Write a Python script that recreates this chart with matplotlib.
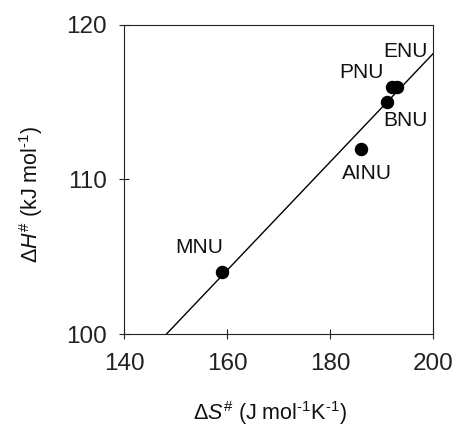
import numpy as np
import matplotlib
matplotlib.use("Agg")
import matplotlib.pyplot as plt

plt.rcParams['font.family'] = ['Liberation Sans', 'DejaVu Sans']
plt.rcParams['mathtext.fontset'] = 'custom'
plt.rcParams['mathtext.rm'] = 'Liberation Sans'
plt.rcParams['mathtext.it'] = 'Liberation Sans:italic'

# Activation parameters for each compound
compounds = ["MNU", "AINU", "BNU", "PNU", "ENU"]
delta_S = [159, 186, 191, 192, 193]      # J mol-1 K-1
delta_H = [104, 112, 115, 116, 116]      # kJ mol-1

# Label positions (data coordinates)
label_x = [154.6, 187.1, 194.6, 186.2, 194.6]
label_y = [105.6, 110.4, 113.85, 116.9, 118.3]

x_ticks = [140, 160, 180, 200]
y_ticks = [100, 110, 120]

fig = plt.figure(figsize=(4.57, 4.36), dpi=100)
ax = fig.add_axes([124 / 457, 1 - 334 / 436, (433 - 124) / 457, (334 - 25) / 436])

# Least-squares compensation line
slope, intercept = np.polyfit(delta_S, delta_H, 1)
xs = np.linspace(140, 200, 200)
ax.plot(xs, slope * xs + intercept, color='black', lw=1.0)

ax.scatter(delta_S, delta_H, s=75, color='black', zorder=3)

for name, lx, ly in zip(compounds, label_x, label_y):
    ax.text(lx, ly, name, fontsize=15, ha='center', va='center', color='#111111')

ax.set_xlim(140, 200)
ax.set_ylim(100, 120)
ax.set_xticks(x_ticks)
ax.set_yticks(y_ticks)
ax.tick_params(direction='inout', length=7, width=0.8, labelsize=17.5,
               top=False, right=False, colors='#222222')
ax.tick_params(axis='x', pad=10)
ax.tick_params(axis='y', pad=9)
for sp in ax.spines.values():
    sp.set_linewidth(0.8)
    sp.set_color('#222222')

ax.set_xlabel('$\\Delta\\mathit{S}^{\\#}$ (J mol$^{\u20101}$K$^{\u20101}$)', fontsize=15.5,
              va='center', color='#111111')
ax.xaxis.set_label_coords((270 - 124) / 309, (334 - 413) / 309)
ax.set_ylabel('$\\Delta\\mathit{H}^{\\#}$ (kJ mol$^{\u20101}$)', fontsize=15.5,
              va='center', color='#111111')
ax.yaxis.set_label_coords((31 - 124) / 309, (334 - 194) / 309)

fig.savefig("out.png", dpi=100)
